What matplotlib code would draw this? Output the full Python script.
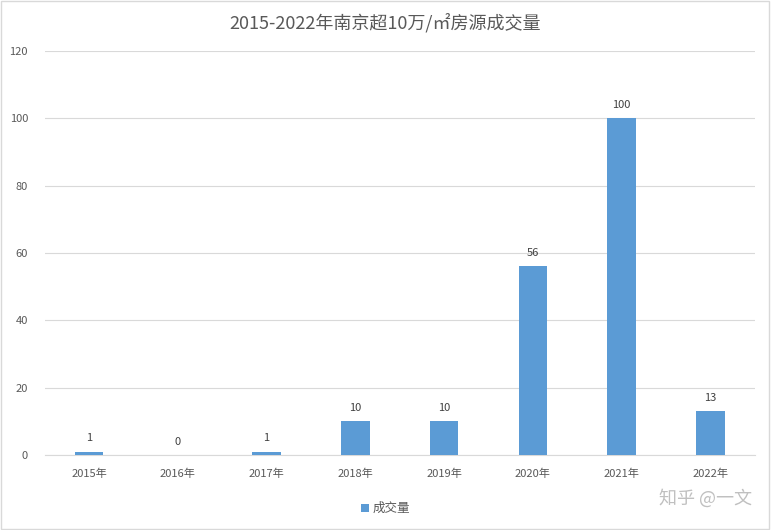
import matplotlib
matplotlib.use("Agg")
import matplotlib.pyplot as plt
from matplotlib.patches import Rectangle

plt.rcParams['font.family'] = ['Noto Sans CJK SC', 'DejaVu Sans']

categories = ['2015年', '2016年', '2017年', '2018年', '2019年', '2020年', '2021年', '2022年']
values = [1, 0, 1, 10, 10, 56, 100, 13]
title = '2015-2022年南京超10万/㎡房源成交量'
series_name = '成交量'
color = '#5B9BD5'

fig = plt.figure(figsize=(7.71, 5.30), dpi=100)
ax = fig.add_axes([0.058, 0.1415, 0.921, 0.7625])
x = range(len(categories))
ax.bar(x, values, width=0.32, color=color, label=series_name, zorder=3)
for i, v in zip(x, values):
    ax.text(i, v + 2.5, str(v), ha='center', va='bottom', fontsize=8, color='#404040')
ax.set_xlim(-0.5, len(categories) - 0.5)
ax.set_ylim(0, 120)
ax.set_yticks(range(0, 121, 20))
ax.set_xticks(list(x))
ax.set_xticklabels(categories)
ax.tick_params(axis='both', length=0, labelsize=8, colors='#595959')
ax.tick_params(axis='y', pad=12)
ax.tick_params(axis='x', pad=10)
ax.grid(axis='y', color='#D9D9D9', linewidth=0.8, zorder=0)
for s in ['top', 'right', 'left']:
    ax.spines[s].set_visible(False)
ax.spines['bottom'].set_color('#D9D9D9')
fig.text(0.5, 0.958, title, ha='center', va='center', fontsize=13, color='#595959')
fig.legend(loc='center', bbox_to_anchor=(0.5, 0.04), frameon=False, fontsize=9,
           handlelength=0.6, handleheight=0.6, handletextpad=0.3, labelcolor='#595959')
fig.text(0.975, 0.06, '知乎 @一文', ha='right', va='center', fontsize=13, color='#C0C0C0')
fig.patches.append(Rectangle((0.001, 0.001), 0.997, 0.997, transform=fig.transFigure,
                             fill=False, edgecolor='#D9D9D9', linewidth=1))
fig.savefig('out.png', dpi=100)
